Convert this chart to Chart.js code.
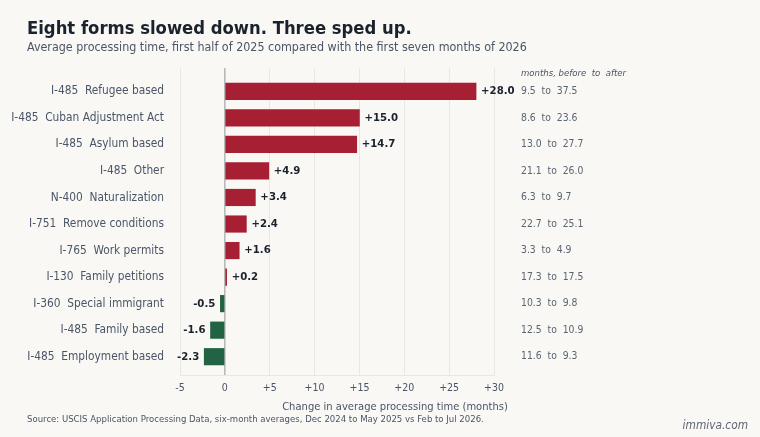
<!DOCTYPE html>
<html>
<head>
<meta charset="utf-8">
<script src="https://cdn.jsdelivr.net/npm/chart.js@4.4.1/dist/chart.umd.min.js"></script>
<style>
  html, body { margin: 0; padding: 0; background: #f9f8f4; }
  #wrap { position: relative; width: 760px; height: 437px; }
</style>
</head>
<body>
<div id="wrap"><canvas id="chart"></canvas></div>
<script>
// data
const forms = [
  "I-485  Refugee based",
  "I-485  Cuban Adjustment Act",
  "I-485  Asylum based",
  "I-485  Other",
  "N-400  Naturalization",
  "I-751  Remove conditions",
  "I-765  Work permits",
  "I-130  Family petitions",
  "I-360  Special immigrant",
  "I-485  Family based",
  "I-485  Employment based"
];
const change = [28.0, 15.0, 14.7, 4.9, 3.4, 2.4, 1.6, 0.2, -0.5, -1.6, -2.3];
const before = ["9.5", "8.6", "13.0", "21.1", "6.3", "22.7", "3.3", "17.3", "10.3", "12.5", "11.6"];
const after = ["37.5", "23.6", "27.7", "26.0", "9.7", "25.1", "4.9", "17.5", "9.8", "10.9", "9.3"];
const xTicks = [-5, 0, 5, 10, 15, 20, 25, 30];

const FONT = "'DejaVu Sans Condensed', 'DejaVu Sans', sans-serif";
const RED = "#a61f32";
const GREEN = "#226344";
const SLATE = "#4a5568";
const DARK = "#1a222d";

// texts round the chart: title, value labels, right column, source
const extrasPlugin = {
  id: "extras",
  afterDatasetsDraw(chart) {
    const ctx = chart.ctx;
    const xs = chart.scales.x;
    const ys = chart.scales.y;
    ctx.save();

    // value at the end of each bar
    ctx.font = "bold 11.3px " + FONT;
    ctx.fillStyle = DARK;
    ctx.textBaseline = "middle";
    change.forEach((v, i) => {
      const y = ys.getPixelForValue(i);
      const x = xs.getPixelForValue(v);
      const txt = (v > 0 ? "+" : "") + v.toFixed(1);
      if (v >= 0) {
        ctx.textAlign = "left";
        ctx.fillText(txt, x + 5, y);
      } else {
        ctx.textAlign = "right";
        ctx.fillText(txt, x - 5, y);
      }
    });

    // before / after column
    const colX = 521;
    ctx.textAlign = "left";
    ctx.font = "italic 9.5px " + FONT;
    ctx.fillStyle = SLATE;
    ctx.fillText("months, before  to  after", colX, 74);
    ctx.font = "10.3px " + FONT;
    ctx.fillStyle = "#5a6474";
    forms.forEach((f, i) => {
      ctx.fillText(before[i] + "  to  " + after[i], colX, ys.getPixelForValue(i));
    });

    // x axis title
    ctx.font = "11.1px " + FONT;
    ctx.fillStyle = SLATE;
    ctx.textAlign = "center";
    ctx.fillText("Change in average processing time (months)", 395, 407);

    // title + subtitle
    ctx.textAlign = "left";
    ctx.textBaseline = "alphabetic";
    ctx.fillStyle = DARK;
    ctx.font = "bold 18.3px " + FONT;
    ctx.fillText("Eight forms slowed down. Three sped up.", 27, 34);
    ctx.fillStyle = SLATE;
    ctx.font = "12.4px " + FONT;
    ctx.fillText("Average processing time, first half of 2025 compared with the first seven months of 2026", 27, 51);

    // source + brand
    ctx.font = "9.5px " + FONT;
    ctx.fillStyle = SLATE;
    ctx.fillText("Source: USCIS Application Processing Data, six-month averages, Dec 2024 to May 2025 vs Feb to Jul 2026.", 27, 422);
    ctx.font = "italic 11.8px " + FONT;
    ctx.fillStyle = "#5f6670";
    ctx.textAlign = "right";
    ctx.fillText("immiva.com", 748, 429);

    ctx.restore();
  }
};

const bgPlugin = {
  id: "bg",
  beforeDraw(chart) {
    const ctx = chart.ctx;
    ctx.save();
    ctx.fillStyle = "#f9f8f4";
    ctx.fillRect(0, 0, chart.width, chart.height);
    ctx.restore();
  }
};

new Chart(document.getElementById("chart"), {
  type: "bar",
  data: {
    datasets: [{
      data: change.map((v, i) => ({ x: v, y: i })),
      backgroundColor: change.map(v => v >= 0 ? RED : GREEN),
      borderWidth: 0,
      barThickness: 16.5
    }]
  },
  options: {
    indexAxis: "y",
    responsive: true,
    maintainAspectRatio: false,
    animation: false,
    layout: { padding: { top: 68, right: 266, left: 0, bottom: 0 } },
    plugins: {
      legend: { display: false },
      tooltip: { enabled: false }
    },
    scales: {
      x: {
        type: "linear",
        min: -5,
        max: 30,
        afterBuildTicks(s) { s.ticks = xTicks.map(v => ({ value: v })); },
        afterFit(s) { s.height = 62; },
        ticks: {
          padding: 7,
          color: SLATE,
          font: { family: FONT, size: 10.5 },
          callback: v => (v > 0 ? "+" : "") + v
        },
        grid: {
          drawTicks: false,
          color: ctx => ctx.tick && ctx.tick.value === 0 ? "#b9b9b9" : "#e9e7e1",
          lineWidth: ctx => ctx.tick && ctx.tick.value === 0 ? 1.6 : 1
        },
        border: { display: true, color: "#e9e7e1" }
      },
      y: {
        type: "linear",
        offset: false,
        reverse: true,
        min: -0.88,
        max: 10.69,
        afterBuildTicks(s) { s.ticks = forms.map((f, i) => ({ value: i })); },
        afterFit(s) { s.width = 180; },
        ticks: {
          padding: 16,
          color: SLATE,
          font: { family: FONT, size: 11.8 },
          callback: v => forms[v]
        },
        grid: { display: false, drawTicks: false },
        border: { display: false }
      }
    }
  },
  plugins: [bgPlugin, extrasPlugin]
});
</script>
</body>
</html>
